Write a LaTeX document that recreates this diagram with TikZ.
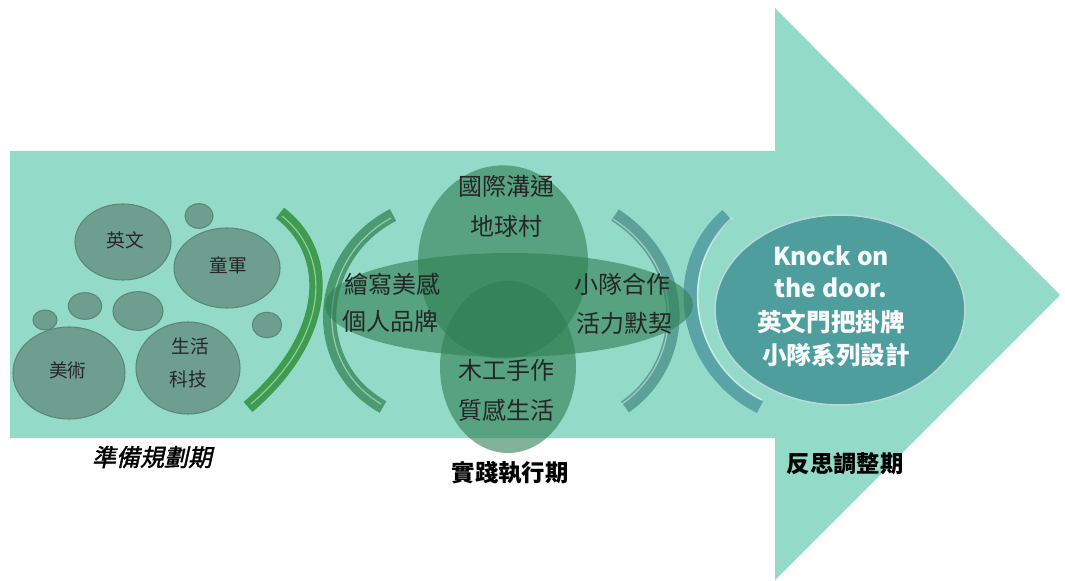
\documentclass[tikz,border=0pt]{standalone}
\usepackage{fontspec}
\setmainfont{Noto Sans CJK TC}
\newfontfamily\slantfont[FakeSlant=0.22,FakeBold=1.5]{Noto Sans CJK TC}
\usetikzlibrary{shapes.geometric}
\definecolor{aqua}{HTML}{93DAC9}
\definecolor{grayc}{HTML}{6E9E8F}
\definecolor{grayrim}{HTML}{5A8878}
\definecolor{midg}{HTML}{2F7F52}
\definecolor{arcA}{HTML}{3E9B50}
\definecolor{arcB}{HTML}{4A9A72}
\definecolor{arcC}{HTML}{5BA198}
\definecolor{arcD}{HTML}{5AA3A6}
\definecolor{bigc}{HTML}{4F9E9E}
\tikzset{
  blob/.style={ellipse, inner sep=0pt, fill=grayc, draw=grayrim, line width=0.8pt},
  midshape/.style={ellipse, inner sep=0pt, fill=midg, fill opacity=0.6, draw=none},
  ctext/.style={font=\fontsize{14}{16}\selectfont, text=black!85, inner sep=0pt},
  mtext/.style={font=\fontsize{18}{20}\selectfont, text=black!85, inner sep=0pt},
  wtext/.style={font=\fontsize{18.5}{22}\selectfont\bfseries, text=white!95!bigc, inner sep=0pt},
  lbl/.style={font=\fontsize{17.5}{20}\selectfont\bfseries, text=black, inner sep=0pt},
  band/.style={line width=10pt, line cap=butt},
  shine/.style={line width=0.9pt, white, opacity=0.45}
}
\begin{document}
\begin{tikzpicture}[x=0.75pt,y=-0.75pt]
\useasboundingbox (0,0) rectangle (1065,581);
\fill[white] (0,0) rectangle (1065,581);
% big arrow
\fill[aqua] (10,151) -- (775,151) -- (775,8) -- (1060,295) -- (775,580) -- (775,438) -- (10,438) -- cycle;

% left blobs
\node[blob, minimum width=72pt, minimum height=57pt] (en) at (123,242) {};
\node[blob, minimum width=79.5pt, minimum height=60pt] (sc) at (227,268) {};
\node[blob, minimum width=84pt, minimum height=69pt] (art) at (69,373) {};
\node[blob, minimum width=78pt, minimum height=69pt] (tech) at (188,368) {};
\node[blob, minimum width=21pt, minimum height=18.5pt] (s1) at (199,216) {};
\node[blob, minimum width=25pt, minimum height=20pt] (s2) at (85,306) {};
\node[blob, minimum width=18pt, minimum height=15pt] (s3) at (45,320) {};
\node[blob, minimum width=37.5pt, minimum height=29pt] (s4) at (138,311) {};
\node[blob, minimum width=22pt, minimum height=19pt] (s5) at (267,325) {};
\node[ctext] (ten) at (125,240) {英文};
\node[ctext] (tsc) at (228,265) {童軍};
\node[ctext] (tart) at (68,370) {美術};
\node[ctext] (ttech1) at (190,346) {生活};
\node[ctext] (ttech2) at (188,379) {科技};

% arcs
\draw[band, arcA] (280,213) .. controls (335,255) and (329,338) .. (248,407);
\draw[shine] (282,216) .. controls (334,258) and (328,338) .. (251,404);
\draw[band, arcB] (393,215) .. controls (315,255) and (306,364) .. (383,407);
\draw[shine] (391,218) .. controls (318,258) and (310,362) .. (381,404);
\draw[band, arcC] (615,215) .. controls (692,265) and (689,362) .. (625,407);
\draw[shine] (613,219) .. controls (687,267) and (684,360) .. (622,404);
\draw[band, arcD] (727,215) .. controls (665,268) and (685,370) .. (760,407);
\draw[line width=1.2pt, white, opacity=0.55] (732,218) .. controls (674,270) and (693,366) .. (762,400);

% middle shapes
\node[midshape, minimum width=276pt, minimum height=78pt] (hor) at (509,305) {};
\node[midshape, minimum width=127.5pt, minimum height=145pt] (up) at (503,262) {};
\node[midshape, minimum width=102pt, minimum height=129pt] (low) at (508,367) {};
\node[mtext] (m1) at (506,186) {國際溝通};
\node[mtext] (m2) at (506,226) {地球村};
\node[mtext] (m3) at (392,284) {繪寫美感};
\node[mtext] (m4) at (390,321) {個人品牌};
\node[mtext] (m5) at (622,284) {小隊合作};
\node[mtext] (m6) at (624,323) {活力默契};
\node[mtext] (m7) at (506,370) {木工手作};
\node[mtext] (m8) at (506,410) {質感生活};

% right circle
\node[ellipse, inner sep=0pt, fill=bigc, draw=white!60!bigc, line width=1.2pt, minimum width=187.5pt, minimum height=142.5pt] (big) at (840,310) {};
\node[wtext] (k1) at (831,256) {Knock on};
\node[wtext] (k2) at (831,288) {the door.};
\node[wtext] (k3) at (831,322) {英文門把掛牌};
\node[wtext] (k4) at (836,355) {小隊系列設計};

% labels
\node[inner sep=0pt, font=\fontsize{18}{20}\selectfont\slantfont, text=black] (l1) at (152,457) {準備規劃期};
\node[lbl] (l2) at (510,473) {實踐執行期};
\node[lbl] (l3) at (845,464) {反思調整期};
\end{tikzpicture}
\end{document}
